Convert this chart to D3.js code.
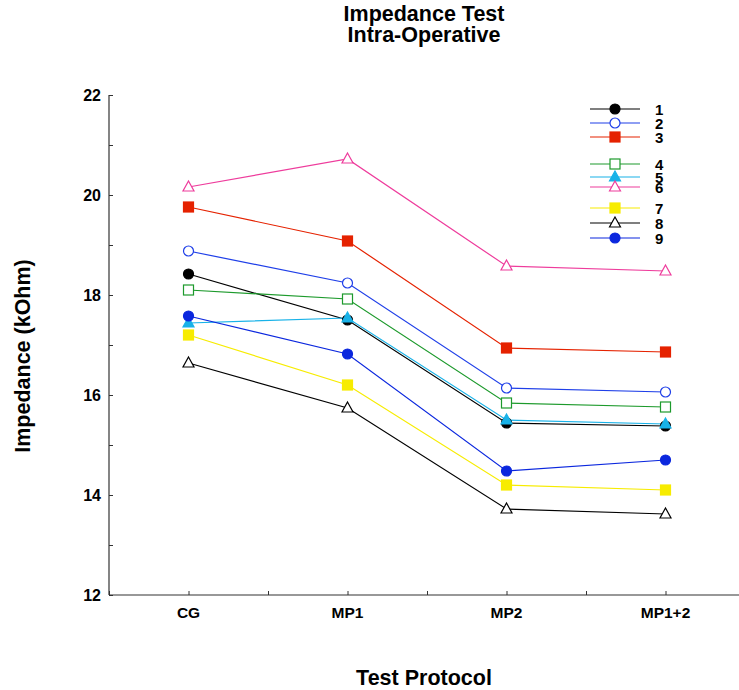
<!DOCTYPE html>
<html>
<head>
<meta charset="utf-8">
<script src="https://cdn.jsdelivr.net/npm/d3@7"></script>
<style>
  body { margin: 0; background: #fff; }
  text { font-family: "Liberation Sans", Arial, sans-serif; font-weight: bold; }
</style>
</head>
<body>
<div id="chart"></div>
<script>
// categories and series
var protocols = ["CG", "MP1", "MP2", "MP1+2"];
var seriesNames = ["1", "2", "3", "4", "5", "6", "7", "8", "9"];
var s1 = [18.42, 17.5, 15.44, 15.38];
var s2 = [18.88, 18.24, 16.14, 16.06];
var s3 = [19.76, 19.08, 16.94, 16.86];
var s4 = [18.1, 17.92, 15.84, 15.76];
var s5 = [17.44, 17.54, 15.5, 15.42];
var s6 = [20.16, 20.72, 18.58, 18.48];
var s7 = [17.2, 16.2, 14.2, 14.1];
var s8 = [16.64, 15.74, 13.72, 13.62];
var s9 = [17.58, 16.82, 14.48, 14.7];
var yTicks = [12, 14, 16, 18, 20, 22];

var allSeries = [s1, s2, s3, s4, s5, s6, s7, s8, s9];
var colors = ["#000000", "#1f3fe8", "#e52200", "#1d9a2c", "#18b2e8", "#ee3c9c", "#f7ec00", "#000000", "#0b27de"];
var shapes = ["circle", "circle", "square", "square", "triangle", "triangle", "square", "triangle", "circle"];
var filled = [true, false, true, false, true, false, true, false, true];
var legendY = [109, 123, 137, 164, 177, 187, 208, 223, 238];

var svg = d3.select("#chart").append("svg")
  .attr("width", 739)
  .attr("height", 690);

var x = d3.scaleLinear().domain([-0.5, 3.5]).range([109, 745]);
var y = d3.scaleLinear().domain([12, 22]).range([595, 95]);

// y axis
var yAxis = svg.append("g")
  .attr("transform", "translate(109,0)")
  .call(d3.axisLeft(y).tickValues(d3.range(12, 22.01, 1)).tickSize(6).tickFormat(""));
yAxis.select(".domain").attr("stroke", "#333").attr("stroke-width", 1.2).attr("d", "M0," + y(12) + "V" + y(22));
yAxis.selectAll(".tick line").attr("stroke", "#333").attr("x2", 4);
yAxis.selectAll(".tick text").remove();

svg.append("g").selectAll("text")
  .data(yTicks)
  .enter()
  .append("text")
  .attr("x", 101)
  .attr("y", d => y(d) + 6)
  .attr("text-anchor", "end")
  .style("font-size", "16px")
  .text(d => d);

// x axis
var xAxis = svg.append("g")
  .attr("transform", "translate(0,595)")
  .call(d3.axisBottom(x).tickValues(d3.range(-0.5, 3.6, 0.5)).tickSize(4).tickFormat(""));
xAxis.select(".domain").attr("stroke", "#333").attr("stroke-width", 1.2).attr("d", "M109,0H739");
xAxis.selectAll(".tick line").attr("stroke", "#333").attr("y2", -4).attr("y1", 0);

svg.append("g").selectAll("text")
  .data(protocols)
  .enter()
  .append("text")
  .attr("x", (d, i) => x(i))
  .attr("y", 618)
  .attr("text-anchor", "middle")
  .style("font-size", "15.5px")
  .text(d => d);

// titles
svg.append("text").attr("x", 424).attr("y", 21).attr("text-anchor", "middle")
  .style("font-size", "21.5px").text("Impedance Test");
svg.append("text").attr("x", 424).attr("y", 42).attr("text-anchor", "middle")
  .style("font-size", "21.5px").text("Intra-Operative");
svg.append("text").attr("x", 424).attr("y", 685).attr("text-anchor", "middle")
  .style("font-size", "21.5px").text("Test Protocol");
svg.append("text").attr("transform", "translate(30,356) rotate(-90)").attr("text-anchor", "middle")
  .style("font-size", "21.5px").text("Impedance (kOhm)");

// marker drawing
function drawMarker(g, shape, color, fill, cx, cy) {
  var f = fill ? color : "#fff";
  if (shape === "circle") {
    g.append("circle").attr("cx", cx).attr("cy", cy).attr("r", 5)
      .attr("fill", f).attr("stroke", color).attr("stroke-width", 1.2);
  } else if (shape === "square") {
    g.append("rect").attr("x", cx - 5).attr("y", cy - 5).attr("width", 10).attr("height", 10)
      .attr("fill", f).attr("stroke", color).attr("stroke-width", 1.2);
  } else {
    g.append("path").attr("d", `M${cx},${cy - 6}L${cx + 5.5},${cy + 4}L${cx - 5.5},${cy + 4}Z`)
      .attr("fill", f).attr("stroke", color).attr("stroke-width", 1.2);
  }
}

var line = d3.line().x((d, i) => x(i)).y(d => y(d));
var plot = svg.append("g");

allSeries.forEach(function(vals, k) {
  plot.append("path")
    .attr("d", line(vals))
    .attr("fill", "none")
    .attr("stroke", colors[k])
    .attr("stroke-width", 1.2);
});
allSeries.forEach(function(vals, k) {
  vals.forEach(function(v, i) {
    drawMarker(plot, shapes[k], colors[k], filled[k], x(i), y(v));
  });
});

// legend
var legend = svg.append("g");
seriesNames.forEach(function(name, k) {
  var ly = legendY[k];
  legend.append("line").attr("x1", 590).attr("x2", 640).attr("y1", ly).attr("y2", ly)
    .attr("stroke", colors[k]).attr("stroke-width", 1.2);
  drawMarker(legend, shapes[k], colors[k], filled[k], 615, ly);
  legend.append("text").attr("x", 655).attr("y", ly + 6)
    .style("font-size", "15px").text(name);
});
</script>
</body>
</html>
